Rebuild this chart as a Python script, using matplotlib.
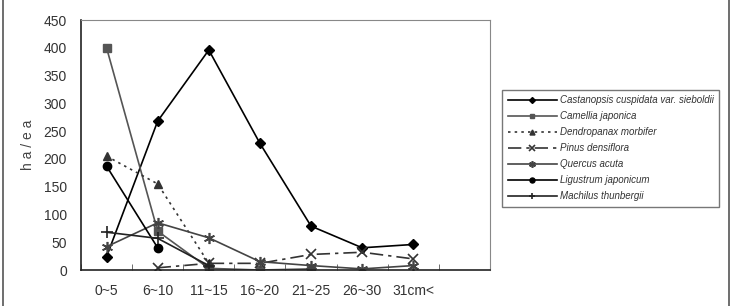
import matplotlib.pyplot as plt
import numpy as np
from matplotlib.lines import Line2D

# diameter classes (last slot left empty like the original sheet)
classes = ["0~5", "6~10", "11~15", "16~20", "21~25", "26~30", "31cm<", ""]

nan = np.nan
castanopsis = [24, 268, 396, 228, 79, 40, 46]
camellia = [400, 70, 3, 0, 2, nan, nan]
dendropanax = [205, 155, 12, nan, nan, nan, nan]
pinus = [nan, 4, 12, 12, 28, 32, 20]
quercus = [42, 85, 58, 15, 8, 2, 8]
ligustrum = [187, 40, nan, nan, nan, nan, nan]
machilus = [68, 57, 8, nan, nan, nan, nan]

species = [
    ("Castanopsis cuspidata var. sieboldii", castanopsis,
     dict(color="black", marker="D", markersize=5, linestyle="-")),
    ("Camellia japonica", camellia,
     dict(color="#555555", marker="s", markersize=6, linestyle="-")),
    ("Dendropanax morbifer", dendropanax,
     dict(color="#333333", marker="^", markersize=6, linestyle=(0, (1.5, 2.5)))),
    ("Pinus densiflora", pinus,
     dict(color="#333333", marker="x", markersize=7, markeredgewidth=1.2,
          linestyle=(0, (8, 3, 2, 3)))),
    ("Quercus acuta", quercus,
     dict(color="#444444", marker=(6, 2, 0), markersize=8, markeredgewidth=1.2,
          linestyle="-")),
    ("Ligustrum japonicum", ligustrum,
     dict(color="black", marker="o", markersize=6, linestyle="-")),
    ("Machilus thunbergii", machilus,
     dict(color="#222222", marker="+", markersize=8, markeredgewidth=1.2,
          linestyle="-")),
]

plt.rcParams["font.family"] = ["Liberation Sans", "DejaVu Sans"]

fig = plt.figure(figsize=(7.31, 3.06), dpi=100)
ax = fig.add_axes([0.1108, 0.1176, 0.5595, 0.8170])

x = np.arange(7)
for name, vals, style in species:
    ax.plot(x, vals, label=name, linewidth=1.2, **style)

ax.set_xlim(-0.5, 7.5)
ax.set_ylim(0, 450)
ax.set_yticks(np.arange(0, 451, 50))
ax.set_xticks(np.arange(8))
ax.set_xticklabels(classes)
ax.set_xticks(np.arange(-0.5, 8.0, 1), minor=True)
ax.tick_params(axis="x", which="major", length=0, pad=10, labelsize=10, labelcolor="#333333")
ax.tick_params(axis="x", which="minor", direction="in", length=4, color="#555555")
ax.tick_params(axis="y", length=0, pad=10, labelsize=10, labelcolor="#333333")
ax.set_ylabel("h a / e a", fontsize=10, color="#444444", labelpad=6)

for side in ["top", "right"]:
    ax.spines[side].set_color("#888888")
for side in ["left", "bottom"]:
    ax.spines[side].set_color("#222222")
    ax.spines[side].set_linewidth(1.2)

leg = fig.legend(
    loc="upper left",
    bbox_to_anchor=(0.687, 0.706),
    prop={"style": "italic", "size": 7},
    frameon=True,
    fancybox=False,
    markerscale=0.6,
    handlelength=5.1,
    handletextpad=0.3,
    labelspacing=0.62,
    borderpad=0.55,
    borderaxespad=0,
)
leg.get_frame().set_edgecolor("#555555")
leg.get_frame().set_linewidth(1.0)
for t in leg.get_texts():
    t.set_color("#333333")

# left and right edges of the sheet frame
for xf in [3 / 731, 729 / 731]:
    fig.add_artist(Line2D([xf, xf], [0, 1], transform=fig.transFigure,
                          color="#555555", linewidth=1.2))

fig.savefig("out.png", dpi=100)
